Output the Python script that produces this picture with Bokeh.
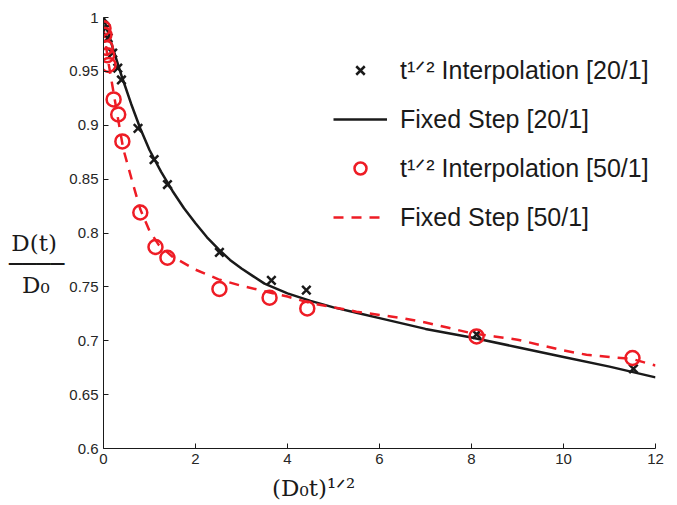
from bokeh.plotting import figure
from bokeh.models import Range1d, FixedTicker, Legend, LegendItem
from bokeh.embed import file_html
from bokeh.resources import INLINE

# ---- data ----
x_int20 = [0.0, 0.05, 0.1, 0.2, 0.31, 0.39, 0.75, 1.1, 1.39, 2.52, 3.65, 4.41, 8.11, 11.52]
y_int20 = [0.999, 0.99, 0.981, 0.967, 0.953, 0.942, 0.897, 0.868, 0.845, 0.782, 0.756, 0.747, 0.706, 0.674]

x_fix20 = [0.0, 0.1, 0.2, 0.4, 0.6, 0.8, 1.0, 1.25, 1.5, 1.75, 2.0, 2.25, 2.5, 2.75, 3.0, 3.25,
           3.5, 4.0, 4.5, 5.0, 5.5, 6.0, 7.0, 8.0, 9.0, 10.0, 11.0, 12.0]
y_fix20 = [1.0, 0.986, 0.972, 0.945, 0.920, 0.897, 0.877, 0.857, 0.839, 0.823, 0.809, 0.796,
           0.785, 0.775, 0.767, 0.760, 0.753, 0.744, 0.737, 0.731, 0.726, 0.721, 0.711, 0.703,
           0.694, 0.685, 0.676, 0.666]

x_int50 = [0.0, 0.02, 0.05, 0.08, 0.11, 0.22, 0.32, 0.41, 0.80, 1.13, 1.39, 2.52, 3.61, 4.43, 8.11, 11.5]
y_int50 = [0.990, 0.984, 0.972, 0.965, 0.956, 0.924, 0.910, 0.885, 0.819, 0.787, 0.777, 0.748,
           0.740, 0.730, 0.704, 0.684]

x_fix50 = [0.0, 0.05, 0.1, 0.2, 0.3, 0.43, 0.65, 0.8, 1.0, 1.2, 1.5, 2.0, 2.5, 3.0, 3.5, 4.0,
           4.5, 5.0, 5.5, 6.0, 6.5, 7.0, 7.5, 8.0, 8.5, 9.0, 9.5, 10.0, 10.5, 11.0, 11.5, 12.0]
y_fix50 = [0.990, 0.975, 0.960, 0.935, 0.910, 0.878, 0.844, 0.822, 0.802, 0.789, 0.778, 0.766,
           0.757, 0.751, 0.746, 0.741, 0.735, 0.731, 0.727, 0.724, 0.721, 0.717, 0.712, 0.707,
           0.704, 0.701, 0.696, 0.691, 0.687, 0.685, 0.683, 0.677]

x_ticks = [0, 2, 4, 6, 8, 10, 12]
y_ticks = [0.6, 0.65, 0.7, 0.75, 0.8, 0.85, 0.9, 0.95, 1.0]
y_tick_labels = ["0.6", "0.65", "0.7", "0.75", "0.8", "0.85", "0.9", "0.95", "1"]

labels = ["t\u00b9\u141f\u00b2 Interpolation [20/1]", "Fixed Step [20/1]",
          "t\u00b9\u141f\u00b2 Interpolation [50/1]", "Fixed Step [50/1]"]
x_label = "(D\u2080t)\u00b9\u141f\u00b2"
y_label = "\u00a0\n\u00a0\n\u00a0\nD(t)\u00a0\n\u2500\u2500\u2500\u2500\nD\u2080\u00a0\u00a0"

RED = "#ee1c25"
BLACK = "#1a1a1a"
SERIF = "DejaVu Serif"

p = figure(width=669, height=503, output_backend="svg", toolbar_location=None,
           x_range=Range1d(0, 12), y_range=Range1d(0.6, 1.0),
           min_border_left=103, min_border_right=14, min_border_top=17, min_border_bottom=51)
p.outline_line_color = None
p.grid.visible = False
p.background_fill_color = "white"
p.border_fill_color = "white"

for ax in (p.xaxis[0], p.yaxis[0]):
    ax.major_tick_in = 5
    ax.major_tick_out = 0
    ax.minor_tick_in = 0
    ax.minor_tick_out = 0
    ax.axis_line_color = BLACK
    ax.major_tick_line_color = BLACK
    ax.major_label_text_font = "Liberation Sans"
    ax.major_label_text_font_size = "15px"
    ax.major_label_text_color = "#262626"
    ax.major_label_standoff = 5

p.xaxis.ticker = FixedTicker(ticks=x_ticks)
p.yaxis.ticker = FixedTicker(ticks=y_ticks)
p.yaxis.major_label_overrides = {t: l for t, l in zip(y_ticks, y_tick_labels)}

p.xaxis.axis_label = x_label + "\u00a0" * 18
p.xaxis.axis_label_text_font = SERIF
p.xaxis.axis_label_text_font_style = "normal"
p.xaxis.axis_label_text_font_size = "23px"
p.xaxis.axis_label_text_color = BLACK
p.xaxis.axis_label_standoff = 8

p.yaxis.axis_label = y_label
p.yaxis.axis_label_orientation = "horizontal"
p.yaxis.axis_label_text_font = SERIF
p.yaxis.axis_label_text_font_style = "normal"
p.yaxis.axis_label_text_font_size = "23px"
p.yaxis.axis_label_text_color = BLACK
p.yaxis.axis_label_standoff = 2
p.yaxis.axis_label_text_line_height = 0.8

r_fix20 = p.line(x_fix20, y_fix20, line_color=BLACK, line_width=2.5)
r_fix50 = p.line(x_fix50, y_fix50, line_color=RED, line_width=2.5, line_dash="10 8")
r_int20 = p.scatter(x_int20, y_int20, marker="x", size=12, line_color=BLACK, line_width=2.5)
r_int50 = p.scatter(x_int50, y_int50, marker="circle", size=14, line_color=RED,
                    fill_color=None, line_width=2.5)

legend = Legend(items=[
    LegendItem(label=labels[0], renderers=[r_int20]),
    LegendItem(label=labels[1], renderers=[r_fix20]),
    LegendItem(label=labels[2], renderers=[r_int50]),
    LegendItem(label=labels[3], renderers=[r_fix50]),
], location=(230, 216), orientation="vertical")
legend.border_line_color = None
legend.background_fill_alpha = 0
legend.padding = 0
legend.margin = 0
legend.glyph_width = 54
legend.glyph_height = 30
legend.label_height = 30
legend.spacing = 19
legend.label_standoff = 13
legend.label_text_font = "Liberation Sans"
legend.label_text_font_size = "25px"
legend.label_text_color = "#1a1a1a"
legend.label_text_baseline = "middle"
p.add_layout(legend)

open("out.html", "w").write(file_html(p, INLINE))
